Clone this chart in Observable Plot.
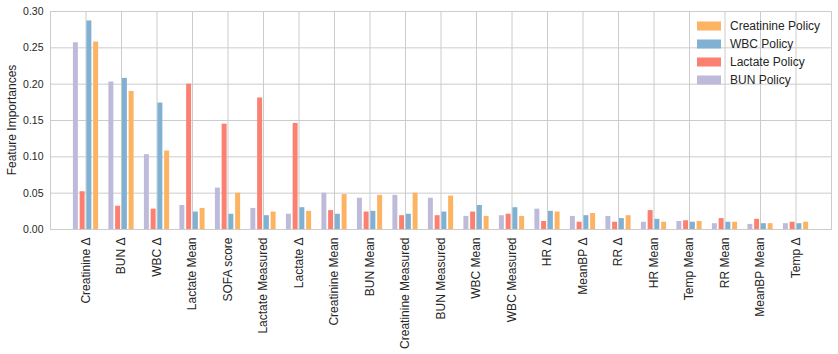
<!DOCTYPE html>
<html>
<head>
<meta charset="utf-8">
<script src="https://cdn.jsdelivr.net/npm/d3@7"></script>
<script src="https://cdn.jsdelivr.net/npm/@observablehq/plot@0.6"></script>
<style>
  html, body { margin: 0; padding: 0; background: #fff; }
  #chart { position: relative; width: 838px; height: 354px; }
  #chart svg { font-family: "Liberation Sans", Arial, sans-serif; }
</style>
</head>
<body>
<div id="chart"></div>
<script>
const features = ["Creatinine Δ", "BUN Δ", "WBC Δ", "Lactate Mean", "SOFA score", "Lactate Measured",
  "Lactate Δ", "Creatinine Mean", "BUN Mean", "Creatinine Measured", "BUN Measured", "WBC Mean",
  "WBC Measured", "HR Δ", "MeanBP Δ", "RR Δ", "HR Mean", "Temp Mean", "RR Mean", "MeanBP Mean", "Temp Δ"];

const policies = ["BUN Policy", "Lactate Policy", "WBC Policy", "Creatinine Policy"];
const legendOrder = ["Creatinine Policy", "WBC Policy", "Lactate Policy", "BUN Policy"];
const colors = ["#bebada", "#fb8072", "#80b1d3", "#fdb462"];

const bunPolicy        = [0.257, 0.203, 0.103, 0.033, 0.057, 0.029, 0.021, 0.050, 0.043, 0.047, 0.043, 0.018, 0.019, 0.028, 0.018, 0.018, 0.010, 0.011, 0.008, 0.007, 0.008];
const lactatePolicy    = [0.052, 0.032, 0.028, 0.200, 0.145, 0.181, 0.146, 0.026, 0.024, 0.019, 0.019, 0.024, 0.021, 0.011, 0.010, 0.010, 0.026, 0.012, 0.015, 0.014, 0.010];
const wbcPolicy        = [0.287, 0.208, 0.174, 0.024, 0.021, 0.019, 0.030, 0.021, 0.025, 0.021, 0.024, 0.033, 0.030, 0.025, 0.019, 0.015, 0.014, 0.010, 0.010, 0.008, 0.008];
const creatininePolicy = [0.258, 0.190, 0.108, 0.029, 0.050, 0.024, 0.025, 0.048, 0.047, 0.050, 0.046, 0.018, 0.018, 0.024, 0.022, 0.019, 0.010, 0.011, 0.010, 0.008, 0.010];

const series = [bunPolicy, lactatePolicy, wbcPolicy, creatininePolicy];

// layout: bar offset within group and bar width (in category units)
const offsets = [-0.285, -0.095, 0.095, 0.285];
const barW = 0.14;

const rows = [];
features.forEach((f, i) => {
  policies.forEach((p, k) => {
    rows.push({i, feature: f, policy: p, k, value: series[k][i]});
  });
});

const textColor = "#262626";
const gridColor = "#cccccc";

const plot = Plot.plot({
  width: 838,
  height: 354,
  marginLeft: 50,
  marginRight: 7,
  marginTop: 11,
  marginBottom: 125,
  style: {fontFamily: "\"Liberation Sans\", Arial, sans-serif", color: textColor, background: "#fff"},
  x: {domain: [-1, features.length], axis: null},
  y: {domain: [0, 0.30], axis: null},
  color: {domain: policies, range: colors},
  marks: [
    Plot.gridY({ticks: d3.range(0, 0.301, 0.05), stroke: gridColor, strokeOpacity: 1, strokeWidth: 1}),
    Plot.gridX({ticks: d3.range(features.length), stroke: gridColor, strokeOpacity: 1, strokeWidth: 1}),
    Plot.rectY(rows, {
      x1: d => d.i + offsets[d.k] - barW / 2,
      x2: d => d.i + offsets[d.k] + barW / 2,
      y1: 0,
      y2: "value",
      fill: "policy",
      inset: 0
    }),
    Plot.frame({stroke: gridColor, strokeWidth: 1}),
    Plot.axisY({
      ticks: d3.range(0, 0.301, 0.05),
      tickFormat: d => d.toFixed(2),
      tickSize: 0,
      tickPadding: 7,
      fontSize: 10.5,
      fill: textColor,
      label: null
    }),
    Plot.axisX({
      ticks: d3.range(features.length),
      tickFormat: i => features[i],
      tickSize: 0,
      tickPadding: 8,
      tickRotate: -90,
      fontSize: 12,
      fill: textColor,
      label: null
    })
  ]
});

const container = document.getElementById("chart");
container.appendChild(plot);

const svg = d3.select(plot);
// y-axis title
svg.append("text")
  .attr("transform", "translate(12,120) rotate(-90)")
  .attr("text-anchor", "middle")
  .attr("dominant-baseline", "central")
  .attr("font-size", 12)
  .attr("fill", textColor)
  .text("Feature Importances");

// legend
const lg = svg.append("g").attr("transform", "translate(697,26)").attr("text-anchor", "start");
legendOrder.forEach((name, j) => {
  const k = policies.indexOf(name);
  const g = lg.append("g").attr("transform", `translate(0,${j * 18})`);
  g.append("rect").attr("x", 0).attr("y", -4.5).attr("width", 24).attr("height", 9).attr("fill", colors[k]);
  g.append("text").attr("x", 33).attr("y", 0).attr("dominant-baseline", "central")
    .attr("text-anchor", "start")
    .attr("font-size", 12).attr("fill", textColor).text(name);
});
</script>
</body>
</html>
